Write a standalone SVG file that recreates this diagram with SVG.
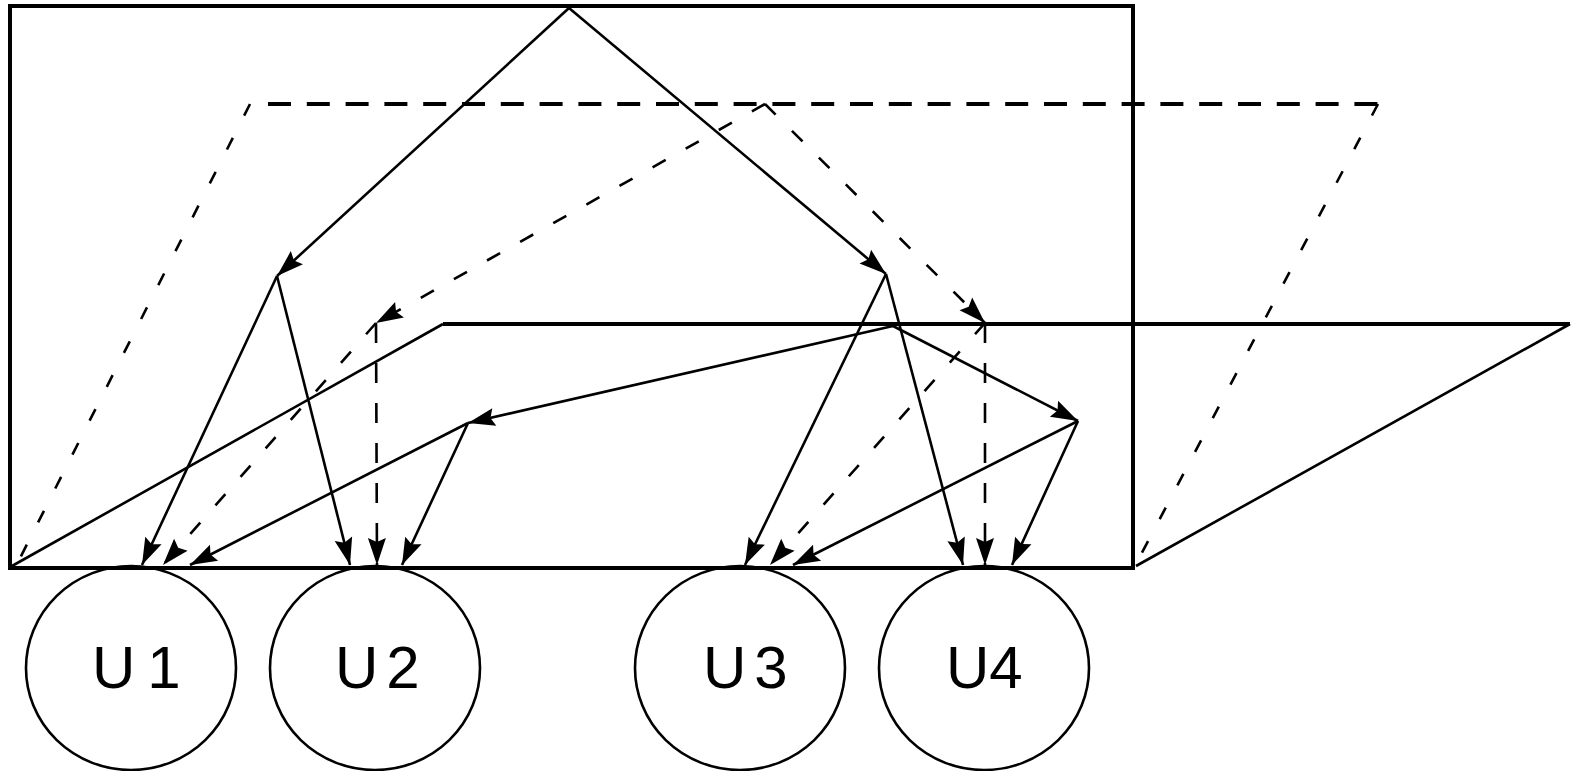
<svg xmlns="http://www.w3.org/2000/svg" width="1578" height="771" viewBox="0 0 1578 771">
  <defs>
    <marker id="arr" viewBox="-30 -11 31 22" refX="0" refY="0" markerWidth="31" markerHeight="22" markerUnits="userSpaceOnUse" orient="auto">
      <path d="M0,0 L-27,-9 L-23,0 L-27,9 Z" fill="#000"/>
    </marker>
  </defs>
  <style>
    .frame{fill:none;stroke:#000;stroke-width:4}
    .edge{fill:none;stroke:#000;stroke-width:2.6}
    .heavy{stroke-width:4}
    .topdash{stroke-dasharray:23 15.8}
    .dot{stroke-dasharray:13 25}
    .dash{stroke-dasharray:15 23}
    .vdash{stroke-dasharray:20 20}
    .conn line{marker-end:url(#arr)}
    .unit{fill:none;stroke:#000;stroke-width:2.6}
    .lbl{font-family:"Liberation Sans",Arial,sans-serif;font-size:60px;fill:#000}
  </style>

  <!-- outer frame -->
  <g id="frame">
    <rect class="frame" x="10" y="6" width="1123" height="562"/>
  </g>

  <!-- upper (dashed) plane -->
  <g id="plane-upper">
    <line class="edge heavy topdash" x1="268" y1="104" x2="1378" y2="104"/>
    <line class="edge dot" x1="250" y1="104" x2="16" y2="566"/>
    <line class="edge dot" x1="1378" y1="104" x2="1135" y2="566"/>
  </g>

  <!-- lower (solid) plane -->
  <g id="plane-lower">
    <line class="edge heavy" x1="443" y1="324" x2="1570" y2="324"/>
    <line class="edge" x1="443" y1="324" x2="12" y2="566"/>
    <line class="edge" x1="1570" y1="324" x2="1136" y2="566"/>
  </g>

  <!-- connectors -->
  <g id="connectors" class="conn">
    <line class="edge" x1="569" y1="8" x2="277" y2="276"/>
    <line class="edge" x1="569" y1="8" x2="886" y2="274"/>
    <line class="edge dash" x1="765" y1="104" x2="376" y2="323"/>
    <line class="edge dash" x1="765" y1="104" x2="985" y2="323"/>
    <line class="edge" x1="893" y1="326" x2="468" y2="423"/>
    <line class="edge" x1="893" y1="326" x2="1078" y2="421"/>

    <line class="edge" x1="277" y1="276" x2="142" y2="565"/>
    <line class="edge dash" x1="376" y1="323" x2="163" y2="565"/>
    <line class="edge" x1="468" y1="423" x2="190" y2="565"/>
    <line class="edge" x1="277" y1="276" x2="350" y2="565"/>
    <line class="edge vdash" x1="376" y1="323" x2="377" y2="565"/>
    <line class="edge" x1="468" y1="423" x2="402" y2="565"/>

    <line class="edge" x1="886" y1="274" x2="745" y2="565"/>
    <line class="edge dash" x1="985" y1="323" x2="770" y2="565"/>
    <line class="edge" x1="1078" y1="421" x2="793" y2="565"/>
    <line class="edge" x1="886" y1="274" x2="963" y2="565"/>
    <line class="edge vdash" x1="985" y1="323" x2="985" y2="565"/>
    <line class="edge" x1="1078" y1="421" x2="1012" y2="565"/>
  </g>

  <!-- units -->
  <g id="u1">
    <ellipse class="unit" cx="131" cy="668" rx="105" ry="102"/>
    <text class="lbl" x="92" y="688" letter-spacing="12">U1</text>
  </g>
  <g id="u2">
    <ellipse class="unit" cx="375" cy="668" rx="105" ry="102"/>
    <text class="lbl" x="335" y="688" letter-spacing="8">U2</text>
  </g>
  <g id="u3">
    <ellipse class="unit" cx="740" cy="668" rx="105" ry="102"/>
    <text class="lbl" x="703" y="688" letter-spacing="8">U3</text>
  </g>
  <g id="u4">
    <ellipse class="unit" cx="984" cy="668" rx="105" ry="102"/>
    <text class="lbl" x="946" y="688" letter-spacing="0">U4</text>
  </g>
</svg>
